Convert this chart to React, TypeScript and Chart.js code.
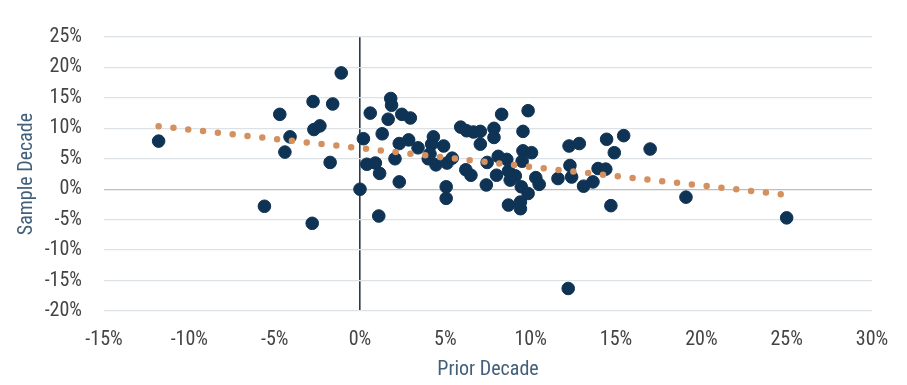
import React, { useEffect, useRef } from "react";
import { Chart, registerables } from "chart.js";

Chart.register(...registerables);

const priorDecade: number[] = [
  -11.8, -5.6, -4.7, -4.4, -4.1, -2.75, -2.8, -2.7, -2.35, -1.75, -1.6, -1.1,
  0.0, 0.2, 0.6, 0.4, 0.9, 1.15, 1.1, 1.3, 1.65, 1.8, 1.85, 2.05, 2.3, 2.3,
  2.45, 2.85, 2.95, 3.4, 4.3, 4.2, 4.9, 4.0, 4.1, 4.45, 5.1, 5.4, 5.05, 5.05,
  5.9, 6.25, 6.65, 7.05, 7.05, 6.2, 6.5, 7.45, 7.4, 7.85, 7.85, 8.3, 8.1, 8.6,
  8.0, 8.7, 8.8, 9.1, 8.7, 9.4, 9.4, 9.55, 9.85, 9.55, 10.05, 9.5, 9.45, 9.85,
  10.3, 10.5, 11.6, 12.25, 12.85, 12.3, 12.4, 13.1, 13.65, 13.95, 14.4, 14.45,
  15.45, 14.9, 17.0, 14.7, 19.1, 25.0, 12.2,
];
const sampleDecade: number[] = [
  7.9, -2.8, 12.3, 6.1, 8.6, 14.4, -5.6, 9.8, 10.4, 4.4, 14.0, 19.1,
  0.0, 8.3, 12.5, 4.1, 4.3, 2.6, -4.4, 9.1, 11.5, 14.9, 13.8, 5.0, 7.5, 1.2,
  12.3, 8.1, 11.7, 6.8, 8.6, 7.4, 7.1, 5.0, 5.8, 4.0, 4.3, 5.1, 0.4, -1.5,
  10.2, 9.6, 9.4, 9.5, 7.4, 3.2, 2.3, 4.4, 0.7, 10.0, 8.5, 12.3, 5.4, 4.9,
  2.3, 3.0, 1.5, 2.2, -2.6, -2.1, -3.2, 9.5, 12.9, 6.3, 6.0, 4.6, 0.4, -0.7,
  1.9, 0.8, 1.75, 7.1, 7.5, 3.9, 2.0, 0.5, 1.2, 3.4, 3.3, 8.2,
  8.8, 6.0, 6.6, -2.7, -1.3, -4.7, -16.3,
];
const trendX: number[] = [-11.8, 24.95];
const trendY: number[] = [10.35, -0.9];

const xTicks: number[] = [-15, -10, -5, 0, 5, 10, 15, 20, 25, 30];
const yTicks: number[] = [-20, -15, -10, -5, 0, 5, 10, 15, 20, 25];

const FONT = "'Roboto Condensed', 'Liberation Sans Narrow', 'DejaVu Sans Condensed', 'Roboto', sans-serif";

export default function App() {
  const ref = useRef<HTMLCanvasElement | null>(null);
  useEffect(() => {
    document.body.style.margin = "0";
    if (!ref.current) return;
    const chart = new Chart(ref.current, {
      type: "scatter",
      data: {
        datasets: [
          {
            type: "line",
            label: "Trend",
            data: trendX.map((x, i) => ({ x, y: trendY[i] })),
            borderColor: "#D4915F",
            borderWidth: 6.5,
            borderDash: [0, 14.9],
            borderCapStyle: "round",
            pointRadius: 0,
            fill: false,
            order: 0,
          } as any,
          {
            label: "Decades",
            data: priorDecade.map((x, i) => ({ x, y: sampleDecade[i] })),
            backgroundColor: "#0E3354",
            borderColor: "#0E3354",
            pointRadius: 6.3,
            pointHoverRadius: 6.3,
            order: 1,
          },
        ],
      },
      options: {
        animation: false,
        responsive: false,
        maintainAspectRatio: false,
        layout: { padding: { top: 37, right: 35, left: 0, bottom: 0 } },
        plugins: { legend: { display: false }, tooltip: { enabled: false } },
        scales: {
          x: {
            type: "linear",
            min: -15,
            max: 30,
            afterBuildTicks: (s: any) => {
              s.ticks = xTicks.map((v) => ({ value: v }));
            },
            afterFit: (s: any) => {
              s.height = 74;
            },
            grid: {
              drawTicks: false,
              color: (c: any) => (c.tick && c.tick.value === 0 ? "#2B3A48" : "rgba(0,0,0,0)"),
              lineWidth: 1.6,
            },
            border: { display: false },
            ticks: {
              padding: 17,
              color: "#444444",
              font: { family: FONT, size: 20 },
              callback: (v: any) => `${v}%`,
            },
            title: {
              display: true,
              text: "Prior Decade",
              color: "#43607A",
              font: { family: FONT, size: 20 },
              padding: { top: 0, bottom: 3 },
            },
          },
          y: {
            type: "linear",
            min: -20,
            max: 25,
            afterBuildTicks: (s: any) => {
              s.ticks = yTicks.map((v) => ({ value: v }));
            },
            afterFit: (s: any) => {
              s.width = 104;
            },
            grid: {
              drawTicks: false,
              color: (c: any) => (c.tick && c.tick.value === 0 ? "#BDBDBD" : "#DDE2E7"),
              lineWidth: 1.3,
            },
            border: { display: false },
            ticks: {
              padding: 22,
              color: "#444444",
              font: { family: FONT, size: 20 },
              callback: (v: any) => `${v}%`,
            },
            title: {
              display: true,
              text: "Sample Decade",
              color: "#43607A",
              font: { family: FONT, size: 20 },
              padding: { top: 15, bottom: 0 },
            },
          },
        },
      },
    });
    return () => chart.destroy();
  }, []);
  return (
    <div style={{ width: 907, height: 385 }}>
      <canvas ref={ref} width={907} height={385} style={{ display: "block", width: 907, height: 385 }} />
    </div>
  );
}
